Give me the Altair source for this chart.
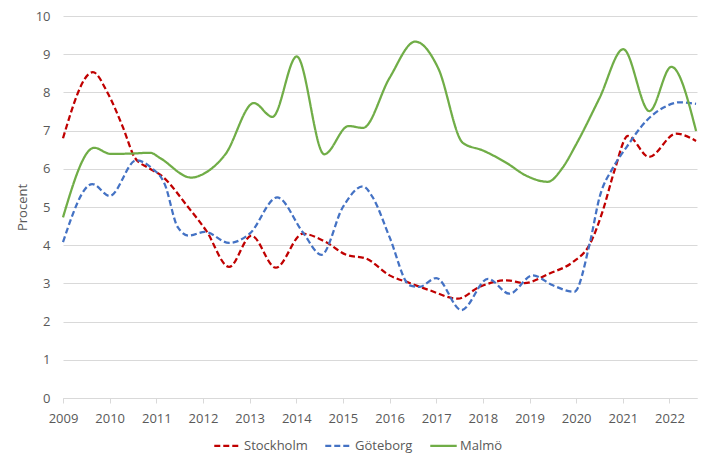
import altair as alt
import pandas as pd

series = ["Stockholm", "Göteborg", "Malmö"]
colors = ["#C00000", "#4472C4", "#70AD47"]

sthlm_x = [2009.0, 2009.64, 2009.96, 2010.29, 2010.54, 2010.82, 2011.11, 2011.68, 2012.07, 2012.56,
           2013.04, 2013.56, 2014.14, 2014.61, 2015.07, 2015.5, 2016.0, 2016.43, 2016.86, 2017.46,
           2017.93, 2018.5, 2018.89, 2019.43, 2019.93, 2020.29, 2020.57, 2020.82, 2021.11, 2021.56,
           2022.14, 2022.57]
sthlm_y = [6.8, 8.53, 7.98, 7.07, 6.29, 6.03, 5.82, 5.0, 4.38, 3.43,
           4.25, 3.41, 4.30, 4.10, 3.75, 3.65, 3.21, 3.01, 2.82, 2.60,
           2.91, 3.08, 3.01, 3.26, 3.56, 4.02, 4.90, 5.95, 6.86, 6.31,
           6.92, 6.73]

gbg_x = [2009.0, 2009.63, 2010.0, 2010.57, 2010.89, 2011.18, 2011.46, 2011.7, 2012.04, 2012.56,
         2013.0, 2013.59, 2014.14, 2014.54, 2015.0, 2015.43, 2015.64, 2016.0, 2016.43, 2016.64,
         2017.0, 2017.54, 2018.11, 2018.57, 2019.07, 2019.5, 2019.96, 2020.29, 2020.5, 2020.79,
         2021.07, 2021.5, 2021.93, 2022.21, 2022.57]
gbg_y = [4.08, 5.60, 5.29, 6.22, 6.03, 5.60, 4.47, 4.25, 4.35, 4.06,
         4.30, 5.25, 4.34, 3.75, 5.00, 5.54, 5.25, 4.21, 2.95, 2.91,
         3.14, 2.30, 3.12, 2.73, 3.21, 2.95, 2.78, 4.04, 5.25, 6.03,
         6.55, 7.25, 7.64, 7.74, 7.70]

malmo_x = [2009.0, 2009.67, 2010.02, 2010.5, 2010.87, 2011.07, 2011.75, 2012.0, 2012.48, 2013.09,
           2013.49, 2014.01, 2014.6, 2015.12, 2015.43, 2016.0, 2016.55, 2017.04, 2017.57, 2018.0,
           2018.5, 2018.93, 2019.39, 2019.71, 2020.0, 2020.5, 2021.01, 2021.57, 2022.04, 2022.57]
malmo_y = [4.73, 6.55, 6.39, 6.40, 6.42, 6.29, 5.77, 5.86, 6.38, 7.72,
           7.36, 8.94, 6.38, 7.12, 7.07, 8.38, 9.33, 8.64, 6.68, 6.48,
           6.16, 5.82, 5.66, 6.03, 6.64, 7.85, 9.13, 7.51, 8.67, 6.99]

years = list(range(2009, 2023))
y_ticks = list(range(0, 11))

rows = []
for name, xs, ys in [("Stockholm", sthlm_x, sthlm_y), ("Göteborg", gbg_x, gbg_y), ("Malmö", malmo_x, malmo_y)]:
    for i, (x, y) in enumerate(zip(xs, ys)):
        rows.append({"Serie": name, "Ar": x, "Procent": y, "ord": i})
df = pd.DataFrame(rows)

FONT = "Open Sans"
GRAY = "#595959"

legend_opts = dict(title=None, orient="none", legendX=150, legendY=415,
                   direction="horizontal", symbolType="stroke",
                   symbolSize=700, symbolStrokeWidth=2.25,
                   columnPadding=12, labelOffset=2)

chart = alt.Chart(df).mark_line(interpolate="monotone").encode(
    x=alt.X("Ar:Q",
            scale=alt.Scale(domain=[2009, 2022.59], nice=False, zero=False),
            axis=alt.Axis(values=years, format="d", title=None, grid=False,
                          domainColor="#d9d9d9", tickColor="#d9d9d9", tickSize=5,
                          labelPadding=9, labelFlush=False)),
    y=alt.Y("Procent:Q",
            scale=alt.Scale(domain=[0, 10], nice=False),
            axis=alt.Axis(values=y_ticks, title="Procent", domain=False, ticks=False,
                          gridColor="#d9d9d9", labelPadding=13, titlePadding=6)),
    color=alt.Color("Serie:N", scale=alt.Scale(domain=series, range=colors),
                    legend=alt.Legend(**legend_opts)),
    strokeDash=alt.StrokeDash("Serie:N", scale=alt.Scale(domain=series, range=[[6, 3], [6, 3], [1, 0]]),
                              legend=alt.Legend(**legend_opts)),
    strokeWidth=alt.StrokeWidth("Serie:N", scale=alt.Scale(domain=series, range=[2.25, 2.25, 2.75]),
                                legend=None),
    order="ord:Q",
).properties(
    width=634, height=382,
    autosize=alt.AutoSizeParams(type="none"),
    padding={"left": 55, "top": 8, "right": 4, "bottom": 57},
).configure_axis(
    labelFont=FONT, labelFontSize=13, labelColor=GRAY,
    titleFont=FONT, titleFontSize=13, titleColor=GRAY, titleFontWeight="normal",
).configure_legend(
    labelFont=FONT, labelFontSize=13, labelColor=GRAY,
).configure_view(stroke=None)

chart.save("out.html", embed_options={"renderer": "svg", "actions": False})
